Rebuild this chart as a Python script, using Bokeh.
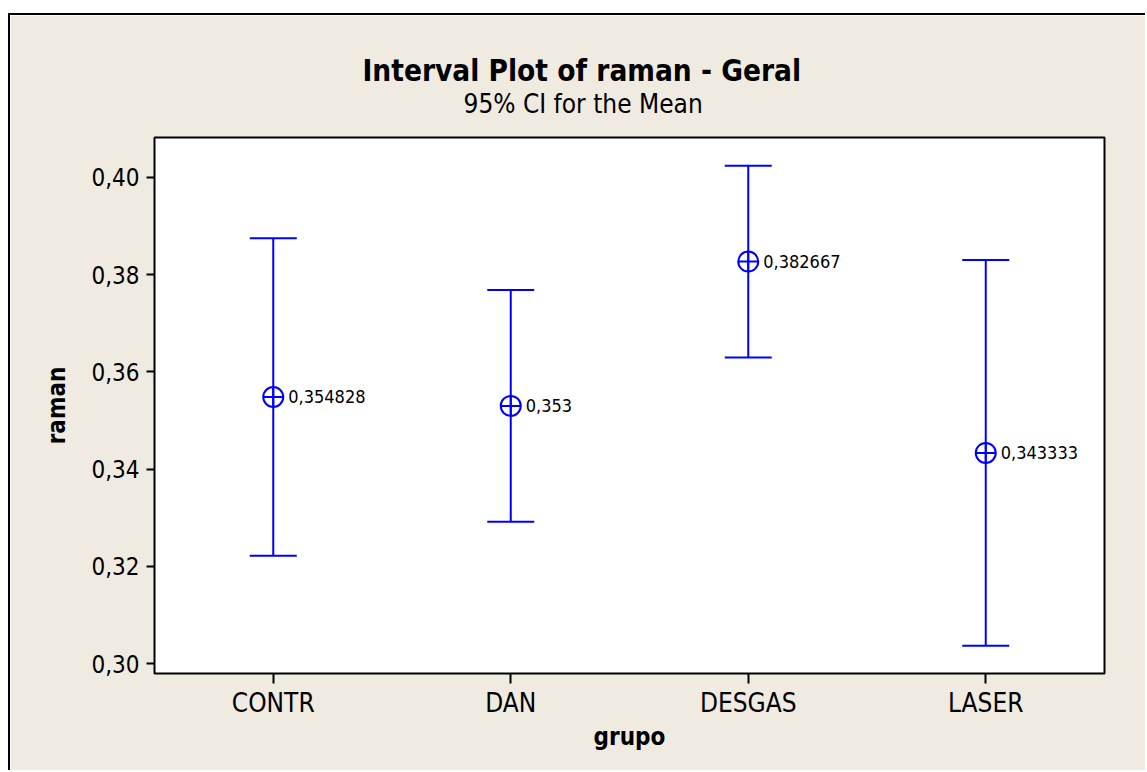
from bokeh.plotting import figure
from bokeh.models import (ColumnDataSource, FactorRange, Range1d, FixedTicker,
                          CustomJSTickFormatter, Whisker, TeeHead, Title)
from bokeh.core.properties import value
from bokeh.embed import file_html
from bokeh.resources import INLINE

groups = ["CONTR", "DAN", "DESGAS", "LASER"]
means = [0.354828, 0.353, 0.382667, 0.343333]
upper = [0.38745, 0.37683, 0.40238, 0.38300]
lower = [0.32221, 0.32917, 0.36296, 0.30367]
mean_labels = ["0,354828", "0,353", "0,382667", "0,343333"]
y_ticks = [0.30, 0.32, 0.34, 0.36, 0.38, 0.40]

FONT = "DejaVu Sans Condensed"
BEIGE = "#EFEBE1"
BLUE = "#0000FF"

W, H = 1137, 757
p = figure(width=W, height=H, x_range=FactorRange(*groups),
           y_range=Range1d(0.29798, 0.40818),
           output_backend="svg", toolbar_location=None,
           min_border_left=144, min_border_right=43,
           min_border_top=122, min_border_bottom=99)
p.title = None
p.styles = {"border-left": "2px solid black", "border-top": "2px solid black",
            "position": "relative", "left": "8px", "top": "13px"}
p.background_fill_color = "white"
p.border_fill_color = BEIGE
p.outline_line_color = "black"
p.outline_line_width = 2
p.grid.visible = False

src = ColumnDataSource(dict(g=groups, m=means, up=upper, lo=lower, lab=mean_labels))

wh = Whisker(base="g", upper="up", lower="lo", source=src, dimension="height",
             line_color=BLUE, line_width=2,
             upper_head=TeeHead(size=47, line_color=BLUE, line_width=2),
             lower_head=TeeHead(size=47, line_color=BLUE, line_width=2))
p.add_layout(wh)
p.scatter("g", "m", source=src, marker="circle_cross", size=20,
          line_color=BLUE, line_width=2, fill_color=None)
p.text("g", "m", text="lab", source=src, x_offset=15, text_baseline="middle",
       text_font=value(FONT), text_font_size="18px", text_color="black")

# axes
p.yaxis.ticker = FixedTicker(ticks=y_ticks)
p.yaxis.formatter = CustomJSTickFormatter(code="return tick.toFixed(2).replace('.', ',');")
for ax in (p.xaxis[0], p.yaxis[0]):
    ax.axis_line_color = None
    ax.major_tick_line_color = "black"
    ax.major_tick_line_width = 2
    ax.minor_tick_line_color = None
    ax.major_tick_in = 0
    ax.major_label_text_font = FONT
    ax.major_label_text_color = "black"
    ax.axis_label_text_font = FONT
    ax.axis_label_text_font_style = "bold"
    ax.axis_label_text_font_size = "24px"
    ax.axis_label_text_color = "black"
p.yaxis.major_label_text_font_size = "24px"
p.xaxis.major_label_text_font_size = "26px"
p.yaxis.major_tick_out = 8
p.xaxis.major_tick_out = 10
p.yaxis.major_label_standoff = 7
p.xaxis.major_label_standoff = 4
p.xaxis.axis_label = "grupo"
p.yaxis.axis_label = "raman"
p.yaxis.axis_label_standoff = 17
p.xaxis.axis_label_standoff = 2

sub = Title(text="95% CI for the Mean", align="left", offset=309, standoff=38,
            text_font=FONT, text_font_style="normal", text_font_size="26px",
            text_color="black")
main = Title(text="Interval Plot of raman - Geral", align="left", offset=208,
             standoff=-40, text_font=FONT, text_font_style="bold",
             text_font_size="29.5px", text_color="black")
p.add_layout(sub, "above")
p.add_layout(main, "above")

open("out.html", "w").write(file_html(p, INLINE))
